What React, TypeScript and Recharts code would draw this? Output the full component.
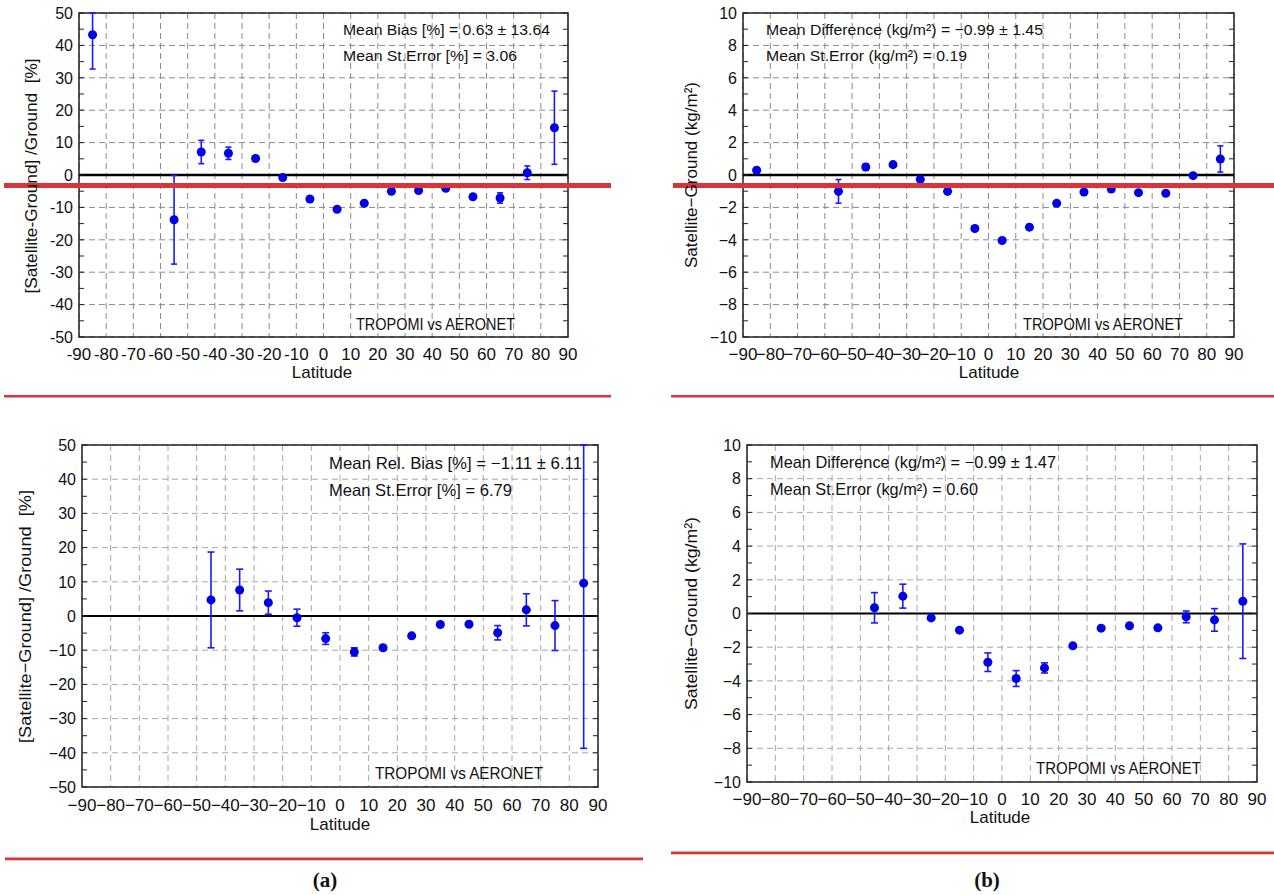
import React from 'react';
import {
  ScatterChart,
  Scatter,
  XAxis,
  YAxis,
  ZAxis,
  CartesianGrid,
  ReferenceLine,
  ReferenceArea,
  ErrorBar,
} from 'recharts';

// ---------- tick labels ----------
const latitudeTicks = [-90, -80, -70, -60, -50, -40, -30, -20, -10, 0, 10, 20, 30, 40, 50, 60, 70, 80, 90];
const percentTicks = [-50, -40, -30, -20, -10, 0, 10, 20, 30, 40, 50];
const percentAllTicks = [-50, -45, -40, -35, -30, -25, -20, -15, -10, -5, 0, 5, 10, 15, 20, 25, 30, 35, 40, 45, 50];
const kgTicks = [-10, -8, -6, -4, -2, 0, 2, 4, 6, 8, 10];
const kgAllTicks = [-10, -9, -8, -7, -6, -5, -4, -3, -2, -1, 0, 1, 2, 3, 4, 5, 6, 7, 8, 9, 10];

// ---------- top row data ----------
const topLatitudes = [-85, -55, -45, -35, -25, -15, -5, 5, 15, 25, 35, 45, 55, 65, 75, 85];
const topRelBias = [43.3, -13.8, 7.1, 6.7, 5.1, -0.8, -7.4, -10.6, -8.7, -5.0, -4.8, -4.1, -6.7, -7.1, 0.7, 14.6];
const topRelBiasErr = [10.6, 13.7, 3.6, 1.9, 0.8, 0.5, 0.4, 0.4, 0.4, 0.4, 0.4, 0.4, 0.4, 1.6, 2.1, 11.3];
const topDiff = [0.29, -1.01, 0.49, 0.64, -0.27, -1.01, -3.3, -4.04, -3.22, -1.75, -1.05, -0.87, -1.09, -1.13, -0.04, 0.99];
const topDiffErr = [0.08, 0.73, 0.2, 0.1, 0.05, 0.05, 0.05, 0.05, 0.05, 0.05, 0.05, 0.05, 0.05, 0.05, 0.05, 0.81];

// ---------- bottom row data ----------
const bottomLatitudes = [-45, -35, -25, -15, -5, 5, 15, 25, 35, 45, 55, 65, 75, 85];
const bottomRelBias = [4.7, 7.6, 3.9, -0.5, -6.6, -10.5, -9.3, -5.8, -2.5, -2.4, -4.9, 1.8, -2.8, 9.6];
const bottomRelBiasErr = [14.0, 6.1, 3.4, 2.5, 1.7, 1.2, 0.5, 0.5, 0.5, 0.5, 2.1, 4.7, 7.3, 48.3];
const bottomDiff = [0.34, 1.03, -0.26, -0.99, -2.89, -3.86, -3.23, -1.92, -0.87, -0.73, -0.85, -0.2, -0.38, 0.73];
const bottomDiffErr = [0.9, 0.71, 0.1, 0.1, 0.55, 0.47, 0.3, 0.1, 0.1, 0.1, 0.1, 0.35, 0.67, 3.4];

const FONT = '"Liberation Sans", Arial, Helvetica, sans-serif';
const RED = '#d4363c';
const BLUE = '#0000e6';
const ERR_BLUE = '#1a1aff';

type Rect = { left: number; top: number; right: number; bottom: number };

const YW = 60;
const XH = 40;
const M = 10;

type PanelProps = {
  rect: Rect;
  lats: number[];
  vals: number[];
  errs: number[];
  yTicks: number[];
  yAllTicks: number[];
  yDomain: [number, number];
  minus: string;
  dotArea: number;
  capWidth: number;
  gridStroke: string;
  zeroWidth: number;
  xTickMargin: number;
};

function Panel(props: PanelProps) {
  const { rect, lats, vals, errs, yTicks, yAllTicks, yDomain, minus, dotArea, capWidth, gridStroke, zeroWidth, xTickMargin } = props;
  // error bars are shown only within the visible plot range (as in the original figure)
  const data = lats.map((lat, i) => ({
    lat,
    val: vals[i],
    err: [Math.min(errs[i], vals[i] - yDomain[0]), Math.min(errs[i], yDomain[1] - vals[i])],
  }));
  const chartLeft = rect.left - YW - M;
  const chartTop = rect.top - M;
  const width = rect.right - chartLeft + 20;
  const height = rect.bottom - chartTop + XH + M;
  const plotL = M + YW;
  const plotR = plotL + (rect.right - rect.left);
  const fmt = (v: number) => (v < 0 ? minus + Math.abs(v) : String(v));
  const majors = new Set(yTicks);

  const YTick = (p: any) => {
    const v = p.payload.value;
    const y = p.y;
    return (
      <g>
        <line x1={plotL} x2={plotL + 5} y1={y} y2={y} stroke="#222" strokeWidth={1} />
        <line x1={plotR - 5} x2={plotR} y1={y} y2={y} stroke="#222" strokeWidth={1} />
        {majors.has(v) && (
          <text x={p.x} y={y} dy="0.36em" textAnchor="end" fontSize={16} fill="#111" fontFamily={FONT}>
            {fmt(v)}
          </text>
        )}
      </g>
    );
  };

  return (
    <div style={{ position: 'absolute', left: chartLeft, top: chartTop }}>
      <ScatterChart width={width} height={height} margin={{ top: M, left: M, right: 20, bottom: M }}>
        <CartesianGrid stroke={gridStroke} strokeDasharray="6 4" horizontalValues={yTicks} verticalValues={latitudeTicks} />
        <XAxis
          type="number"
          dataKey="lat"
          domain={[-90, 90]}
          ticks={latitudeTicks}
          interval={0}
          tickFormatter={fmt}
          axisLine={false}
          tickLine={false}
          tickSize={0}
          tickMargin={xTickMargin}
          height={XH}
          tick={{ fontSize: 17, fill: '#111', fontFamily: FONT }}
        />
        <YAxis
          type="number"
          dataKey="val"
          domain={yDomain}
          allowDataOverflow
          ticks={yAllTicks}
          interval={0}
          axisLine={false}
          tickLine={false}
          tickSize={0}
          tickMargin={6}
          width={YW}
          tick={YTick}
        />
        <ZAxis range={[dotArea, dotArea]} />
        <ReferenceLine y={0} stroke="#000" strokeWidth={zeroWidth} />
        <ReferenceArea x1={-90} x2={90} y1={yDomain[0]} y2={yDomain[1]} fill="none" fillOpacity={0} stroke="#222" strokeWidth={1.5} />
        <Scatter data={data} fill={BLUE} isAnimationActive={false}>
          <ErrorBar dataKey="err" direction="y" width={capWidth} stroke={ERR_BLUE} strokeWidth={1.6} />
        </Scatter>
      </ScatterChart>
    </div>
  );
}

type Note = { t: string; x: number; y: number; len: number; fs: number };

const notes: Note[] = [
  { t: 'Mean Bias [%] = 0.63 \u00b1 13.64', x: 343, y: 34.5, len: 207, fs: 15.5 },
  { t: 'Mean St.Error [%] = 3.06', x: 343, y: 60.5, len: 174, fs: 15.5 },
  { t: 'TROPOMI vs AERONET', x: 356, y: 330, len: 159, fs: 16 },
  { t: 'Mean Difference (kg/m\u00b2) = \u22120.99 \u00b1 1.45', x: 766, y: 34.5, len: 277, fs: 15.5 },
  { t: 'Mean St.Error (kg/m\u00b2) = 0.19', x: 766, y: 60.5, len: 201, fs: 15.5 },
  { t: 'TROPOMI vs AERONET', x: 1023, y: 330, len: 160, fs: 16 },
  { t: 'Mean Rel. Bias [%] = \u22121.11 \u00b1 6.11', x: 329, y: 468.7, len: 253, fs: 16.5 },
  { t: 'Mean St.Error [%] = 6.79', x: 329, y: 496, len: 183, fs: 16.5 },
  { t: 'TROPOMI vs AERONET', x: 375, y: 779, len: 168, fs: 16.5 },
  { t: 'Mean Difference (kg/m\u00b2) = \u22120.99 \u00b1 1.47', x: 770, y: 467.7, len: 286, fs: 16.5 },
  { t: 'Mean St.Error (kg/m\u00b2) = 0.60', x: 770, y: 495.3, len: 208, fs: 16.5 },
  { t: 'TROPOMI vs AERONET', x: 1036, y: 774.3, len: 165, fs: 16.5 },
];

const yTitles = [
  { t: '[Satellite-Ground] /Ground  [%]', x: 30.6, y: 176, len: 235 },
  { t: 'Satellite\u2212Ground (kg/m\u00b2)', x: 690.6, y: 175, len: 186 },
  { t: '[Satellite\u2212Ground] /Ground  [%]', x: 25.3, y: 616.5, len: 253 },
  { t: 'Satellite\u2212Ground (kg/m\u00b2)', x: 690.6, y: 613.5, len: 193 },
];

const xTitles = [
  { x: 322, y: 378 },
  { x: 989, y: 378 },
  { x: 340, y: 830 },
  { x: 1000, y: 823 },
];

export default function App() {
  return (
    <div style={{ position: 'absolute', left: 0, top: 0, width: 1274, height: 895, background: '#fff', overflow: 'hidden' }}>
      <Panel
        rect={{ left: 79, top: 13, right: 568, bottom: 337 }}
        lats={topLatitudes}
        vals={topRelBias}
        errs={topRelBiasErr}
        yTicks={percentTicks}
        yAllTicks={percentAllTicks}
        yDomain={[-50, 50]}
        minus="-"
        dotArea={64}
        capWidth={3}
        gridStroke="#8a8a8a"
        zeroWidth={2.6}
        xTickMargin={11}
      />
      <Panel
        rect={{ left: 743, top: 13, right: 1234, bottom: 337 }}
        lats={topLatitudes}
        vals={topDiff}
        errs={topDiffErr}
        yTicks={kgTicks}
        yAllTicks={kgAllTicks}
        yDomain={[-10, 10]}
        minus={'\u2212'}
        dotArea={64}
        capWidth={3}
        gridStroke="#8a8a8a"
        zeroWidth={2.6}
        xTickMargin={11}
      />
      <Panel
        rect={{ left: 82, top: 445, right: 598, bottom: 787 }}
        lats={bottomLatitudes}
        vals={bottomRelBias}
        errs={bottomRelBiasErr}
        yTicks={percentTicks}
        yAllTicks={percentAllTicks}
        yDomain={[-50, 50]}
        minus={'\u2212'}
        dotArea={95}
        capWidth={3.5}
        gridStroke="#a8a8a8"
        zeroWidth={1.8}
        xTickMargin={12}
      />
      <Panel
        rect={{ left: 747, top: 445, right: 1257, bottom: 782 }}
        lats={bottomLatitudes}
        vals={bottomDiff}
        errs={bottomDiffErr}
        yTicks={kgTicks}
        yAllTicks={kgAllTicks}
        yDomain={[-10, 10]}
        minus={'\u2212'}
        dotArea={95}
        capWidth={3.5}
        gridStroke="#a8a8a8"
        zeroWidth={1.8}
        xTickMargin={11}
      />
      <svg
        width={1274}
        height={895}
        style={{ position: 'absolute', left: 0, top: 0, pointerEvents: 'none' }}
        fontFamily={FONT}
      >
        <rect x={4} y={183} width={607} height={5} fill={RED} />
        <rect x={673} y={183} width={601} height={5} fill={RED} />
        <rect x={4} y={395} width={607} height={2.5} fill={RED} />
        <rect x={671} y={395} width={603} height={2.5} fill={RED} />
        <rect x={5} y={857.5} width={638} height={2.8} fill={RED} />
        <rect x={671} y={851.5} width={603} height={2.8} fill={RED} />
        {notes.map((n, i) => (
          <text key={'n' + i} x={n.x} y={n.y} fontSize={n.fs} fill="#111" textLength={n.len} lengthAdjust="spacingAndGlyphs">
            {n.t}
          </text>
        ))}
        {yTitles.map((n, i) => (
          <text
            key={'y' + i}
            x={n.x}
            y={n.y}
            dy="0.35em"
            fontSize={17}
            fill="#111"
            textAnchor="middle"
            textLength={n.len}
            lengthAdjust="spacingAndGlyphs"
            transform={`rotate(-90 ${n.x} ${n.y})`}
            style={{ whiteSpace: 'pre' }}
          >
            {n.t}
          </text>
        ))}
        {xTitles.map((n, i) => (
          <text key={'x' + i} x={n.x} y={n.y} fontSize={17} fill="#111" textAnchor="middle">
            Latitude
          </text>
        ))}
        <text x={325} y={887} fontSize={21} fontWeight="bold" textAnchor="middle" fontFamily='"Liberation Serif", "DejaVu Serif", serif' fill="#111">
          (a)
        </text>
        <text x={987} y={887} fontSize={21} fontWeight="bold" textAnchor="middle" fontFamily='"Liberation Serif", "DejaVu Serif", serif' fill="#111">
          (b)
        </text>
      </svg>
    </div>
  );
}
